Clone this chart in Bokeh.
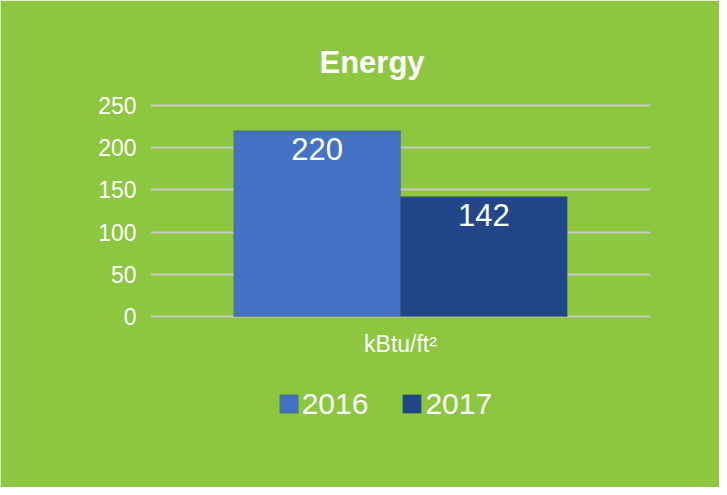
from bokeh.plotting import figure
from bokeh.models import (ColumnDataSource, FactorRange, Range1d, FixedTicker,
                          LabelSet, Legend, LegendItem)
from bokeh.core.properties import value
from bokeh.transform import dodge
from bokeh.embed import file_html
from bokeh.resources import INLINE

# ---- data ----
category = "kBtu/ft²"
years = ["2016", "2017"]
values = [220, 142]
bar_colors = ["#4472c4", "#23468a"]
y_ticks = [0, 50, 100, 150, 200, 250]
title_text = "Energy"

GREEN = "#8dc63f"
FONT = "Liberation Sans"

# layout (pixels): 250 at y=105, zero line at 316, frame from 102 to 440
W, H = 719, 487
Y250, ZERO, FRAME_TOP, FRAME_BOTTOM = 105, 316, 102, 440
px_per_unit = (ZERO - Y250) / 250
y_max = (ZERO - FRAME_TOP) / px_per_unit
y_min = -(FRAME_BOTTOM - ZERO) / px_per_unit

p = figure(width=W, height=H, output_backend="svg", toolbar_location=None,
           x_range=FactorRange(category, range_padding=0), y_range=Range1d(y_min, y_max),
           min_border_left=150, min_border_right=69, min_border_top=FRAME_TOP,
           min_border_bottom=H - FRAME_BOTTOM)
p.background_fill_color = GREEN
p.border_fill_color = GREEN
p.outline_line_color = GREEN
p.outline_line_width = 1

# title
p.title.text = title_text
p.title.align = "left"
p.title.offset = 169
p.title.standoff = 45
p.title.text_color = "white"
p.title.text_font = FONT
p.title.text_font_size = "31px"
p.title.text_font_style = "bold"

offsets = [-1/6, 1/6]
items = []
for yr, v, col, off in zip(years, values, bar_colors, offsets):
    src = ColumnDataSource(dict(cat=[category], value=[v], text=[str(v)]))
    r = p.vbar(x=dodge("cat", off, range=p.x_range), top="value", width=1/3,
               source=src, fill_color=col, line_color="#3b5e2b", line_alpha=0.35,
               line_width=1)
    items.append(LegendItem(label=yr, renderers=[r]))
    lab = LabelSet(x=dodge("cat", off, range=p.x_range), y="value", text="text",
                   source=src, text_align="center", text_baseline="alphabetic",
                   y_offset=-29, text_color="white", text_font=value(FONT),
                   text_font_size="31px")
    p.add_layout(lab)

# axes
for ax in (p.yaxis, p.xaxis):
    ax.axis_line_color = None
    ax.major_tick_line_color = None
    ax.minor_tick_line_color = None
    ax.major_tick_out = 0
    ax.major_tick_in = 0
    ax.major_label_text_color = "white"
    ax.major_label_text_font = FONT
    ax.major_label_text_font_size = "23px"
    ax.major_label_standoff = 14
p.yaxis.ticker = FixedTicker(ticks=y_ticks)
p.xaxis.fixed_location = 0

p.xgrid.grid_line_color = None
p.ygrid.ticker = FixedTicker(ticks=y_ticks)
p.ygrid.grid_line_color = "#c8c8c8"
p.ygrid.grid_line_width = 2

# legend
legend = Legend(items=items, orientation="horizontal", location=(126.7, 19.5),
                glyph_width=23, glyph_height=23, label_standoff=2, spacing=32,
                padding=0, margin=0, background_fill_alpha=0,
                border_line_color=None, label_text_color="white",
                label_text_font=FONT, label_text_font_size="30px")
p.add_layout(legend)

open("out.html", "w").write(file_html(p, INLINE))
